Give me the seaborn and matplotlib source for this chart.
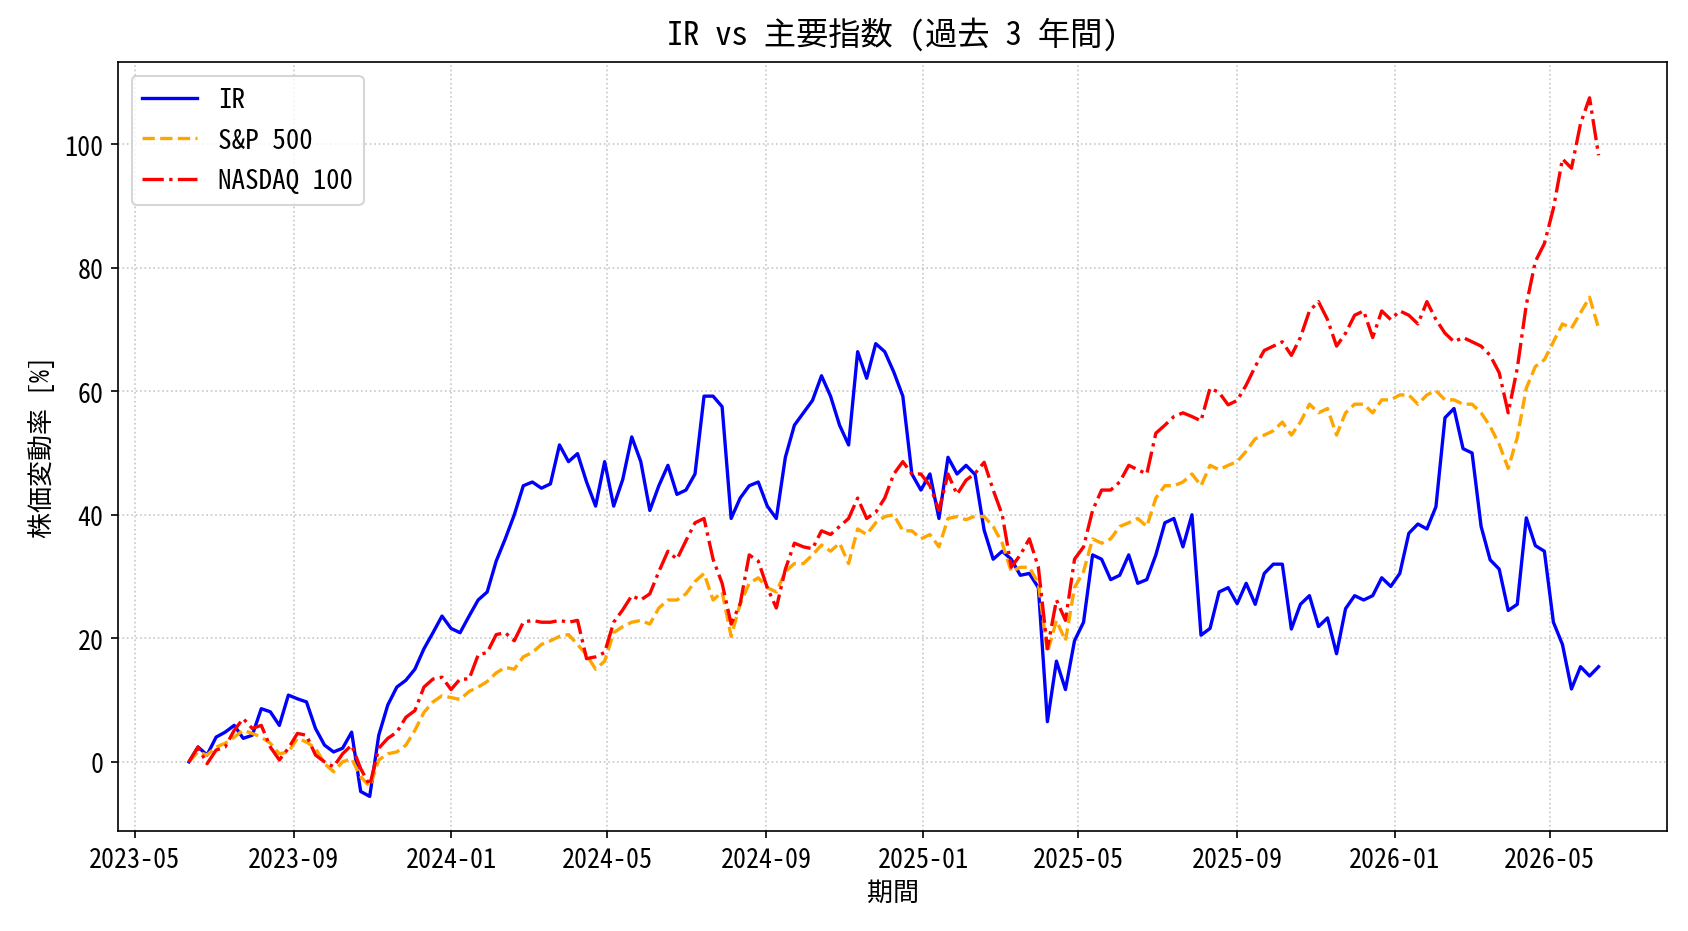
import numpy as np
import pandas as pd
import matplotlib
matplotlib.use("Agg")
import matplotlib.pyplot as plt
import matplotlib.dates as mdates
from matplotlib import font_manager
import seaborn as sns

# ---- data (weekly readings, % change) ----
start_date = "2023-06-12"
ir = [0.0, 2.4, 1.1, 4.0, 4.8, 5.9, 3.8, 4.3, 8.6, 8.1, 5.9, 10.8, 10.2, 9.7, 5.4, 2.7, 1.6, 2.2, 4.8, -4.8,
      -5.6, 4.3, 9.2, 12.1, 13.2, 15.0, 18.3, 20.9, 23.6, 21.6, 20.9, 23.6, 26.2, 27.5, 32.5, 36.1, 40.0, 44.7, 45.3, 44.3,
      45.0, 51.3, 48.6, 49.9, 45.3, 41.4, 48.6, 41.4, 45.7, 52.6, 48.6, 40.7, 44.7, 48.0, 43.3, 44.0, 46.6, 59.2, 59.2, 57.5,
      39.4, 42.7, 44.7, 45.3, 41.4, 39.4, 49.3, 54.5, 56.5, 58.5, 62.5, 59.2, 54.5, 51.3, 66.4, 62.1, 67.7, 66.4, 63.1, 59.2,
      46.6, 44.0, 46.6, 39.4, 49.3, 46.6, 48.0, 46.5, 37.5, 32.8, 34.1, 32.8, 30.2, 30.5, 28.2, 6.5, 16.3, 11.7, 19.6, 22.6,
      33.5, 32.8, 29.5, 30.2, 33.5, 28.9, 29.5, 33.5, 38.7, 39.4, 34.8, 40.0, 20.5, 21.6, 27.5, 28.2, 25.6, 28.9, 25.5, 30.5,
      32.0, 32.0, 21.5, 25.5, 26.9, 21.9, 23.3, 17.5, 24.8, 26.9, 26.2, 26.9, 29.8, 28.4, 30.5, 37.0, 38.5, 37.7, 41.3, 55.7,
      57.2, 50.7, 50.0, 38.1, 32.7, 31.2, 24.5, 25.5, 39.5, 35.0, 34.1, 22.6, 19.0, 11.8, 15.4, 13.9, 15.4]
sp500 = [0.0, 1.6, 1.1, 2.4, 3.0, 4.0, 5.1, 4.6, 4.0, 3.0, 1.3, 1.6, 3.8, 3.2, 2.2, -0.3, -1.6, 0.0, 0.5, -2.4,
         -4.0, 0.3, 1.3, 1.6, 2.7, 5.1, 8.0, 9.7, 10.7, 10.4, 10.1, 11.4, 12.1, 13.0, 14.4, 15.3, 15.0, 17.0, 17.7, 19.0,
         19.6, 20.3, 20.6, 19.0, 17.3, 15.0, 16.3, 20.9, 21.9, 22.6, 22.9, 22.3, 24.9, 26.2, 26.2, 27.2, 29.2, 30.5, 26.2, 27.5,
         20.3, 25.6, 28.9, 29.8, 28.2, 27.5, 30.8, 32.1, 32.1, 33.5, 35.1, 34.1, 35.4, 32.1, 37.7, 36.8, 38.7, 39.7, 40.0, 37.4,
         37.4, 36.1, 36.8, 34.8, 39.4, 39.7, 39.2, 39.8, 39.7, 38.1, 35.4, 30.8, 31.5, 31.5, 28.9, 17.7, 22.9, 19.6, 28.2, 30.8,
         36.1, 35.4, 36.1, 38.1, 38.7, 39.4, 38.1, 42.7, 44.7, 44.7, 45.3, 46.6, 44.7, 48.0, 47.3, 48.0, 48.6, 50.3, 52.3, 52.9,
         53.6, 55.0, 52.9, 55.0, 57.9, 56.5, 57.2, 52.9, 56.5, 57.9, 57.9, 56.5, 58.6, 58.6, 59.4, 59.4, 57.9, 59.4, 60.1, 58.6,
         58.6, 57.9, 57.9, 56.5, 54.3, 51.4, 47.5, 52.5, 60.5, 64.0, 65.1, 68.0, 70.9, 70.2, 72.7, 75.2, 70.2]
nasdaq100 = [0.0, 2.4, -0.3, 1.9, 2.4, 5.1, 7.0, 5.4, 5.9, 2.4, 0.3, 2.2, 4.6, 4.3, 1.1, 0.0, -0.8, 1.3, 2.7, -1.1,
             -3.8, 2.2, 3.8, 4.8, 7.2, 8.3, 12.1, 13.4, 13.7, 11.7, 13.4, 13.4, 17.3, 17.7, 20.6, 20.9, 19.6, 22.6, 22.9, 22.6,
             22.6, 22.9, 22.6, 22.9, 16.7, 17.0, 17.7, 22.6, 24.6, 26.9, 26.2, 27.2, 30.8, 34.1, 32.8, 35.8, 38.7, 39.4, 32.8, 28.9,
             22.3, 25.6, 33.5, 32.5, 28.2, 24.9, 31.2, 35.4, 34.8, 34.5, 37.4, 36.8, 38.1, 39.4, 42.7, 39.4, 40.4, 42.7, 46.6, 48.6,
             46.6, 46.6, 44.7, 40.7, 46.6, 43.3, 45.6, 46.7, 48.5, 44.0, 40.0, 31.5, 33.5, 36.1, 31.5, 18.3, 26.2, 22.9, 32.8, 34.8,
             40.7, 44.0, 44.0, 45.3, 48.0, 47.3, 46.6, 53.2, 54.5, 55.9, 56.5, 55.9, 55.2, 60.5, 59.8, 57.8, 58.5, 61.0, 64.0, 66.6,
             67.3, 68.0, 65.8, 68.7, 73.0, 74.5, 71.6, 67.3, 69.4, 72.3, 73.0, 68.7, 73.0, 71.6, 73.0, 72.3, 70.9, 74.5, 71.6, 69.4,
             68.0, 68.7, 68.0, 67.3, 65.8, 63.0, 56.5, 63.7, 74.0, 81.0, 83.9, 89.6, 97.6, 96.1, 103.3, 107.5, 98.2]
series_labels = ["IR", "S&P 500", "NASDAQ 100"]
title_text = "IR vs 主要指数 (過去 3 年間)"
xlabel_text = "期間"
ylabel_text = "株価変動率 [%]"

dates = pd.date_range(start_date, periods=len(ir), freq="7D")

# pick a monospaced CJK look if available
try:
    font_manager.findfont("Noto Sans Mono CJK JP", fallback_to_default=False)
    families = ["Noto Sans Mono CJK JP", "DejaVu Sans"]
    fs_tick, fs_title, fs_label, fs_leg, hlen = 12.5, 15.5, 12.5, 13.0, 2.0
except Exception:
    families = ["DejaVu Sans Mono", "Noto Sans CJK JP", "DejaVu Sans"]
    fs_tick, fs_title, fs_label, fs_leg, hlen = 10.8, 14.5, 12.0, 11.0, 2.5

plt.rcParams['font.family'] = families

fig = plt.figure(figsize=(1688 / 150, 932 / 150), dpi=150)
ax = fig.add_axes([118 / 1688, 1 - 832 / 932, (1667 - 118) / 1688, (832 - 63) / 932])

styles = [("blue", "-"), ("orange", "--"), ("red", "-.")]
for vals, lab, (c, ls) in zip([ir, sp500, nasdaq100], series_labels, styles):
    sns.lineplot(x=dates, y=vals, color=c, linestyle=ls, linewidth=1.6, label=lab, ax=ax)

ax.xaxis.set_major_locator(mdates.MonthLocator(bymonth=[1, 5, 9]))
ax.xaxis.set_major_formatter(mdates.DateFormatter("%Y-%m"))
ax.tick_params(labelsize=fs_tick)
ax.set_ylim(-11.2, 113.3)
ax.set_xlim(pd.Timestamp("2023-04-18"), pd.Timestamp("2026-07-31"))
ax.grid(True, linestyle=":", alpha=0.7)
ax.set_title(title_text, fontsize=fs_title, pad=9)
ax.set_xlabel(xlabel_text, fontsize=fs_label, labelpad=3)
ax.set_ylabel(ylabel_text, fontsize=fs_label)
ax.legend(loc="upper left", fontsize=fs_leg, handlelength=hlen)

fig.savefig("out.png", dpi=150)
